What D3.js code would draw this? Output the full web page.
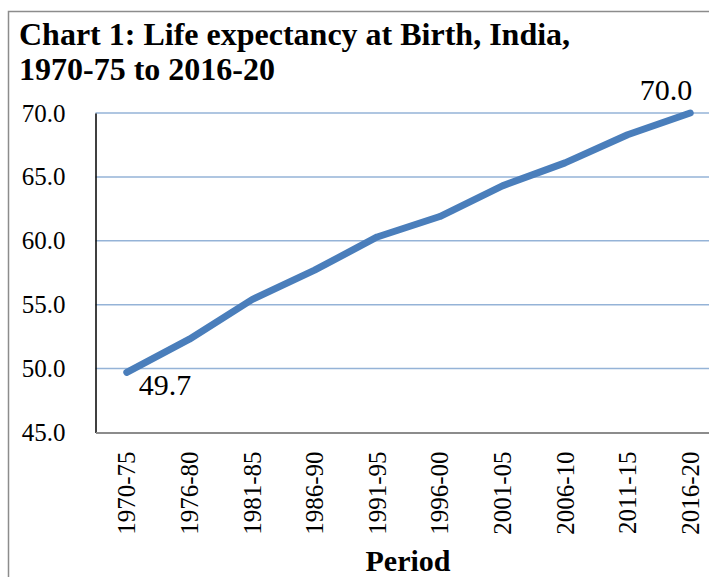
<!DOCTYPE html>
<html><head><meta charset="utf-8">
<script src="https://cdn.jsdelivr.net/npm/d3@7"></script>
<style>html,body{margin:0;padding:0;background:#fff;overflow:hidden}</style>
</head><body><div id="chart"></div>
<script>
const categories = ["1970-75","1976-80","1981-85","1986-90","1991-95","1996-00","2001-05","2006-10","2011-15","2016-20"];
const lifeExpectancy = [49.7,52.3,55.4,57.7,60.3,61.9,64.3,66.1,68.3,70.0];
const yTicks = [45,50,55,60,65,70];
const titleLines = ["Chart 1: Life expectancy at Birth, India,","1970-75 to 2016-20"];
const xTitle = "Period";

const W = 709, H = 577;
const svg = d3.select("#chart").append("svg").attr("width", W).attr("height", H)
  .style("font-family", "'Liberation Serif','Times New Roman',serif");

// outer chart border
svg.append("path").attr("d", `M8.5,${H+5}V11.5H${W+5}`).attr("fill","none").attr("stroke","#8c8c8c").attr("stroke-width",1.5);

const left = 95.5, bw = 62.6;
const x = d3.scaleBand().domain(categories).range([left, left + bw*categories.length]).padding(0);
const y = d3.scaleLinear().domain([45,70]).range([432.5,113]);
const cx = d => x(d) + x.bandwidth()/2;

// gridlines
svg.append("g").selectAll("line").data(yTicks.filter(t=>t>45)).join("line")
  .attr("x1", left).attr("x2", W).attr("y1", d=>y(d)).attr("y2", d=>y(d))
  .attr("stroke","#95b3d7").attr("stroke-width",1.5);

// y axis
const yAxis = svg.append("g").attr("transform",`translate(${left},0)`)
  .call(d3.axisLeft(y).tickValues(yTicks).tickFormat(d3.format(".1f")).tickSize(0).tickPadding(30));
yAxis.select(".domain").attr("stroke","#000").attr("stroke-width",1.5);
yAxis.selectAll("text").attr("font-size",25).attr("fill","#000").attr("font-family","'Liberation Serif',serif");

// x axis
const xAxis = svg.append("g").attr("transform",`translate(0,${y(45)})`)
  .call(d3.axisBottom(x).tickSize(0));
xAxis.select(".domain").attr("stroke","#8c8c8c").attr("stroke-width",2);
xAxis.selectAll("text")
  .attr("font-size",25).attr("fill","#000").attr("font-family","'Liberation Serif',serif")
  .attr("transform","rotate(-90)")
  .attr("text-anchor","end").attr("x",-19).attr("y",0).attr("dy","0.34em");

// line
const line = d3.line().x((d,i)=>cx(categories[i])).y(d=>y(d));
svg.append("path").datum(lifeExpectancy).attr("d", line)
  .attr("fill","none").attr("stroke","#4a7ebb").attr("stroke-width",7)
  .attr("stroke-linecap","round").attr("stroke-linejoin","round");

// data labels
const n = lifeExpectancy.length;
svg.append("text").attr("x", cx(categories[0]) + 12).attr("y", y(lifeExpectancy[0]) + 23)
  .attr("font-size",30).attr("fill","#000").text(lifeExpectancy[0].toFixed(1));
svg.append("text").attr("x", cx(categories[n-1]) + 2).attr("y", y(lifeExpectancy[n-1]) - 13)
  .attr("font-size",30).attr("fill","#000").attr("text-anchor","end").text(lifeExpectancy[n-1].toFixed(1));

// title
svg.append("g").selectAll("text").data(titleLines).join("text")
  .attr("x",19).attr("y",(d,i)=>45+i*35)
  .attr("font-size",32).attr("font-weight","bold").attr("fill","#000").text(d=>d);

// x axis title
svg.append("text").attr("x",408).attr("y",571).attr("text-anchor","middle")
  .attr("font-size",30).attr("font-weight","bold").attr("fill","#000").text(xTitle);
</script></body></html>
